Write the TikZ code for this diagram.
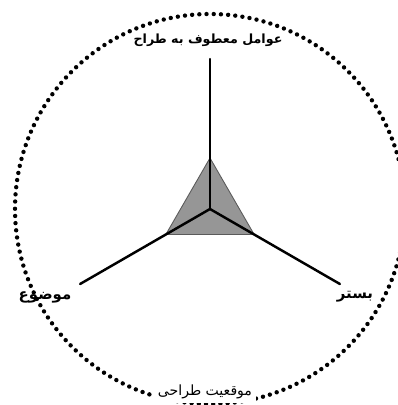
\documentclass[tikz,border=0pt]{standalone}
\usepackage{fontspec}
\newfontfamily\arabicfont[Script=Arabic]{DejaVu Sans}
\TeXXeTstate=1
\definecolor{tri gray}{RGB}{150,150,150}
\definecolor{tri edge}{RGB}{90,90,90}
\tikzset{
  axisline/.style={line width=1.4pt, line cap=round},
  ringdots/.style={line width=2.5pt, line cap=round, dash pattern=on 0pt off 4.1pt},
  faside/.style={font=\arabicfont\bfseries\fontsize{8.5}{10}\selectfont, inner sep=1pt},
  fatop/.style={faside, font=\arabicfont\bfseries\fontsize{7.2}{9}\selectfont},
  fabottom/.style={font=\arabicfont\fontsize{8}{9}\selectfont, inner sep=2pt}
}
\begin{document}
\begin{tikzpicture}
	\useasboundingbox (-4.2,-3.92) rectangle (3.76,4.18);
	% --- 1. Tâm và bán kính ---
	\coordinate (O) at (0,0);
	\def\R{3.9} % vòng chấm
	\def\L{3.0} % độ dài tia
	\def\r{1.02} % tam giác
	\coordinate (T) at (90:\L);
	\coordinate (Lf) at (210:\L);
	\coordinate (Rt) at (-30:\L);
	\coordinate (A) at (90:\r);
	\coordinate (B) at (210:\r);
	\coordinate (C) at (-30:\r);
	% --- 2. Vòng chấm ---
	\draw[ringdots] (O) circle (\R);
	% --- 3. Tam giác xám ---
	\filldraw[fill=tri gray, draw=tri edge, line width=0.5pt] (A) -- (B) -- (C) -- cycle;
	% --- 4. Ba tia ---
	\draw[axisline] (O) -- (T);
	\draw[axisline] (O) -- (Lf);
	\draw[axisline] (O) -- (Rt);
	% --- 5. Nhãn ---
	\node[fatop] (top) at (-0.04,3.37) {\beginR عوامل معطوف به طراح\endR};
	\node[faside] (left) at (-3.3,-1.76) {\beginR موضوع\endR};
	\node[faside] (right) at (2.9,-1.76) {\beginR بستر\endR};
	\node[fabottom, fill=white] (bottom) at (-0.1,-3.66) {\beginR موقعیت طراحی\endR};
\end{tikzpicture}
\end{document}
